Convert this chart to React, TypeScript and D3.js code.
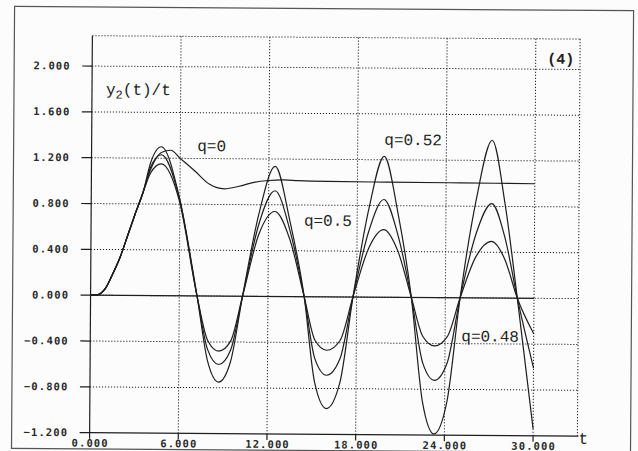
import React, { useRef, useEffect } from 'react'
import * as d3 from 'd3'

// time samples for the three oscillating curves
const tOsc = [0, 0.5, 1, 1.5, 2, 2.5, 3, 3.5, 4, 4.72, 5.96, 7.2, 7.95, 8.7, 9.5, 10.28,
  11.35, 12.43, 13.45, 14.45, 15.2, 16.0, 16.9, 17.75, 18.8, 19.8, 20.75, 21.7,
  22.5, 23.3, 24.15, 25.0, 26.05, 27.1, 28.0, 28.87, 30]
const q052 = [0, 0.005, 0.06, 0.19, 0.34, 0.53, 0.72, 0.9, 1.16, 1.3, 0.86, 0, -0.57, -0.75, -0.57, 0,
  0.72, 1.135, 0.66, 0, -0.75, -0.975, -0.75, 0, 0.78, 1.23, 0.74, 0,
  -0.91, -1.19, -0.91, 0, 0.86, 1.377, 0.82, 0, -1.14]
const q05 = [0, 0.005, 0.06, 0.19, 0.34, 0.53, 0.72, 0.9, 1.12, 1.23, 0.85, 0, -0.47, -0.597, -0.47, 0,
  0.63, 0.923, 0.58, 0, -0.54, -0.684, -0.54, 0, 0.58, 0.853, 0.55, 0,
  -0.57, -0.722, -0.57, 0, 0.56, 0.824, 0.53, 0, -0.61]
const q048 = [0, 0.005, 0.06, 0.19, 0.34, 0.53, 0.72, 0.9, 1.07, 1.15, 0.83, 0, -0.39, -0.48, -0.39, 0,
  0.54, 0.742, 0.5, 0, -0.38, -0.466, -0.38, 0, 0.43, 0.591, 0.41, 0,
  -0.34, -0.422, -0.34, 0, 0.36, 0.495, 0.34, 0, -0.31]

// the q=0 curve settles to 1
const tQ0 = [0, 0.5, 1, 1.5, 2, 2.5, 3, 3.5, 4, 4.72, 5.36, 6, 7, 8, 9, 10, 11, 12, 13, 14, 16, 20, 25, 30]
const q0 = [0, 0.005, 0.06, 0.19, 0.34, 0.53, 0.72, 0.9, 1.1, 1.25, 1.27, 1.2, 1.09, 0.975, 0.937, 0.96,
  0.995, 1.012, 1.018, 1.013, 1.008, 1.005, 1.003, 1.0]

const xTicks = [0, 6, 12, 18, 24, 30]
const yTicks = [-1.2, -0.8, -0.4, 0, 0.4, 0.8, 1.2, 1.6, 2.0]

const labels = [
  { text: 'q=0', t: 7.15, v: 1.265 },
  { text: 'q=0.52', t: 19.8, v: 1.33 },
  { text: 'q=0.5', t: 14.4, v: 0.62 },
  { text: 'q=0.48', t: 25.1, v: -0.38 },
]

function App() {
  const svgRef = useRef<SVGSVGElement>(null)

  useEffect(() => {
    const svg = d3.select(svgRef.current)
    svg.selectAll('*').remove()

    const x = d3.scaleLinear().domain([0, 33]).range([91, 578.8])
    const y = d3.scaleLinear().domain([-1.2, 2.265]).range([434.3, 37.3])
    const ink = '#1e1e1e'
    const tickFont = 'DejaVu Sans Mono'
    const textFont = 'Liberation Mono'

    svg.append('rect').attr('width', 638).attr('height', 451).attr('fill', '#fcfcfc')

    // scanned page is slightly rotated
    const g = svg.append('g').attr('transform', 'rotate(0.4,320,235)')

    g.append('rect')
      .attr('x', 13).attr('y', 8.5).attr('width', 619).attr('height', 442)
      .attr('fill', 'none').attr('stroke', '#555').attr('stroke-width', 1.2)

    // dotted grid
    const grid = g.append('g')
      .attr('stroke', '#222').attr('stroke-width', 1).attr('stroke-dasharray', '1.2,1.8')
    yTicks.filter(d => d > -1.2).concat([2.265]).forEach(v => {
      grid.append('line').attr('x1', x(0)).attr('x2', x(33)).attr('y1', y(v)).attr('y2', y(v))
    })
    xTicks.filter(d => d > 0).concat([33]).forEach(t => {
      grid.append('line').attr('x1', x(t)).attr('x2', x(t)).attr('y1', y(2.265)).attr('y2', y(-1.2))
    })

    // axes
    g.append('line').attr('x1', x(0)).attr('x2', x(0)).attr('y1', y(2.265)).attr('y2', y(-1.2))
      .attr('stroke', ink).attr('stroke-width', 1.2)
    g.append('line').attr('x1', x(0)).attr('x2', x(33) + 1).attr('y1', y(-1.2)).attr('y2', y(-1.2))
      .attr('stroke', ink).attr('stroke-width', 1.2)

    yTicks.forEach(v => {
      g.append('line').attr('x1', x(0) - 10).attr('x2', x(0)).attr('y1', y(v)).attr('y2', y(v))
        .attr('stroke', ink).attr('stroke-width', 1.2)
      g.append('text').attr('x', 69.5).attr('y', y(v) + 3.6)
        .attr('text-anchor', 'end').attr('font-family', tickFont).attr('font-weight', 'bold')
        .attr('font-size', 10.5).attr('letter-spacing', 1.1).attr('fill', '#2a2a2a')
        .text(d3.format('.3f')(v))
    })
    xTicks.forEach(t => {
      g.append('line').attr('x1', x(t)).attr('x2', x(t)).attr('y1', y(-1.2)).attr('y2', y(-1.2) + 6)
        .attr('stroke', ink).attr('stroke-width', 1.2)
      g.append('text').attr('x', x(t) + 0.6).attr('y', 448.3)
        .attr('text-anchor', 'middle').attr('font-family', tickFont).attr('font-weight', 'bold')
        .attr('font-size', 10.5).attr('letter-spacing', 1.1).attr('fill', '#2a2a2a')
        .text(d3.format('.3f')(t))
    })
    g.append('text').attr('x', 580).attr('y', 442).attr('font-family', textFont)
      .attr('font-size', 16).attr('fill', ink).text('t')

    // zero reference line
    g.append('line').attr('x1', x(0)).attr('x2', x(30)).attr('y1', y(0)).attr('y2', y(0))
      .attr('stroke', ink).attr('stroke-width', 1.2)

    const line = d3.line<[number, number]>()
      .x(d => x(d[0])).y(d => y(d[1])).curve(d3.curveMonotoneX)

    const series: [number[], number[]][] = [[tQ0, q0], [tOsc, q052], [tOsc, q05], [tOsc, q048]]
    series.forEach(([ts, vs]) => {
      g.append('path')
        .datum(ts.map((t, i) => [t, vs[i]] as [number, number]))
        .attr('d', line)
        .attr('fill', 'none').attr('stroke', ink).attr('stroke-width', 1.2)
    })

    // curve labels
    labels.forEach(l => {
      g.append('text').attr('x', x(l.t)).attr('y', y(l.v))
        .attr('font-family', textFont).attr('font-size', 16).attr('fill', '#222')
        .text(l.text)
    })

    const yl = g.append('text').attr('x', 105).attr('y', 96)
      .attr('font-family', textFont).attr('font-size', 16).attr('fill', '#222')
    yl.append('tspan').text('y')
    yl.append('tspan').attr('dy', 4).attr('font-size', 12).text('2')
    yl.append('tspan').attr('dy', -4).text('(t)/t')

    g.append('text').attr('x', 546).attr('y', 62)
      .attr('font-family', textFont).attr('font-size', 15).attr('font-weight', 'bold')
      .attr('fill', '#222').text('(4)')
  }, [])

  return (
    <svg ref={svgRef} width={638} height={451}
      style={{ position: 'absolute', left: 0, top: 0 }} />
  )
}

export default App
